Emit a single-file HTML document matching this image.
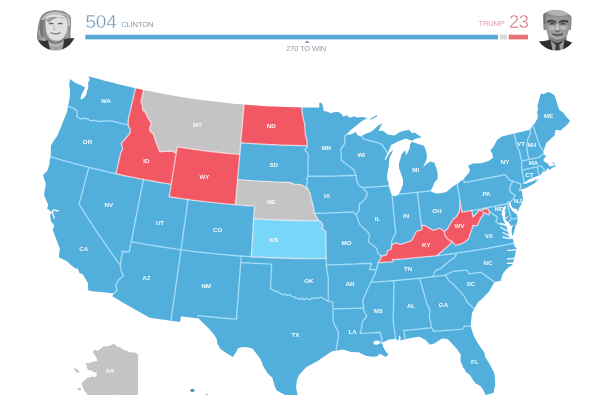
<!DOCTYPE html>
<html><head><meta charset="utf-8">
<style>
html,body{margin:0;padding:0;background:#fff;}
body{width:600px;height:402px;overflow:hidden;position:relative;font-family:"Liberation Sans",Arial,sans-serif;}
svg{position:absolute;left:0;top:0;}
.map path{stroke:none;}
.map path.bd{fill:none;stroke:rgba(180,232,255,0.72);stroke-width:1.4;stroke-linejoin:round;stroke-linecap:round;}
.map path.bw{fill:none;stroke:rgba(255,240,245,0.6);stroke-width:1.4;stroke-linejoin:round;stroke-linecap:round;}
.map text{font-family:"Liberation Sans",Arial,sans-serif;font-weight:bold;font-size:6.2px;fill:#fff;fill-opacity:0.92;text-anchor:middle;}
.hd{position:absolute;white-space:nowrap;line-height:1;}
.num{font-size:18.6px;font-weight:normal;letter-spacing:-0.2px;-webkit-text-stroke:0.35px #fff;paint-order:normal;}
.nm{font-size:7.2px;letter-spacing:-0.15px;}
</style></head><body>
<div id="wrap" style="position:absolute;left:0;top:0;width:600px;height:402px;filter:blur(0.5px);">
<svg class="map" width="600" height="395" viewBox="0 0 600 395">
<path d="M88.5,76.3L92.8,77.5L97.0,78.6L101.3,79.8L105.5,80.9L109.8,82.0L114.1,83.1L118.3,84.2L122.6,85.2L126.9,86.2L131.2,87.2L135.5,88.2L135.5,88.2L134.1,94.4L132.6,100.7L131.2,106.9L129.7,113.2L128.3,119.5L128.1,124.9L128.1,124.9L123.7,123.9L119.2,122.9L114.8,121.8L110.3,120.7L107.4,120.9L103.6,121.2L98.9,121.5L95.1,120.4L90.1,120.8L87.6,118.7L84.2,118.3L80.7,118.9L76.7,116.4L77.3,113.3L76.7,110.5L74.8,109.1L73.2,108.2L69.7,106.8L68.0,105.8L68.0,105.8L69.2,100.5L69.8,96.8L70.0,90.3L69.2,84.2L70.2,78.9L74.7,82.6L79.4,84.6L83.4,86.4L85.3,87.6L83.2,91.6L81.0,96.1L80.5,99.2L82.3,99.1L84.7,97.2L86.6,93.8L87.2,90.1L88.2,88.4L88.2,85.2L88.1,82.6L89.8,79.8Z" fill="#52afdc"/>
<path d="M68.0,105.8L69.7,106.8L73.2,108.2L74.8,109.1L76.7,110.5L77.3,113.3L76.7,116.4L80.7,118.9L84.2,118.3L87.6,118.7L90.1,120.8L95.1,120.4L98.9,121.5L103.6,121.2L107.4,120.9L110.3,120.7L114.8,121.8L119.2,122.9L123.7,123.9L128.1,124.9L128.1,124.9L130.1,129.1L130.3,132.4L127.5,136.3L125.7,138.5L121.3,143.3L122.1,146.1L122.7,149.4L121.0,151.6L119.3,159.0L117.6,166.4L115.9,173.8L115.9,173.8L110.5,172.6L105.0,171.3L99.6,170.0L94.2,168.7L88.8,167.4L88.8,167.4L84.0,166.1L79.2,164.9L74.4,163.6L69.7,162.3L64.9,160.9L60.1,159.6L55.4,158.2L50.7,156.8L50.7,156.8L50.8,150.2L50.8,145.7L53.9,140.6L57.1,136.3L61.0,126.9L63.3,121.0L67.1,111.7Z" fill="#52afdc"/>
<path d="M50.7,156.8L55.4,158.2L60.1,159.6L64.9,160.9L69.7,162.3L74.4,163.6L79.2,164.9L84.0,166.1L88.8,167.4L88.8,167.4L87.2,173.5L85.6,179.6L84.0,185.7L82.4,191.9L80.7,198.0L79.1,204.1L83.0,210.3L86.9,216.5L90.9,222.7L94.9,228.9L99.0,235.0L103.2,241.1L107.4,247.2L111.7,253.3L116.1,259.4L120.5,265.4L120.5,265.4L120.4,267.3L121.6,272.1L123.5,275.7L119.1,279.3L115.8,285.1L116.8,290.5L113.8,293.5L113.8,293.5L107.4,292.8L101.1,292.1L94.7,291.4L88.3,290.6L88.3,290.6L87.8,286.4L88.0,283.2L84.9,277.9L82.6,274.1L79.5,273.2L78.9,271.3L77.9,268.8L75.3,268.3L71.7,265.7L67.4,261.4L64.5,260.0L58.8,257.2L59.4,252.8L59.9,249.0L58.1,243.9L55.0,235.9L52.6,229.3L54.5,226.5L53.1,224.1L50.9,220.9L50.2,216.1L51.2,212.4L49.4,209.9L47.1,208.6L48.2,205.0L44.0,195.1L45.1,188.2L45.9,183.8L44.5,180.1L43.1,175.0L47.5,170.4L49.4,164.3L49.8,159.8Z" fill="#52afdc"/>
<path d="M88.8,167.4L94.2,168.7L99.6,170.0L105.0,171.3L110.5,172.6L115.9,173.8L115.9,173.8L121.4,175.0L126.9,176.2L132.4,177.3L137.9,178.4L143.5,179.5L143.5,179.5L142.2,185.7L141.0,191.9L139.8,198.1L138.6,204.3L137.4,210.5L136.1,216.8L134.9,223.0L133.7,229.2L132.5,235.4L131.2,241.7L131.2,241.7L129.3,251.7L122.1,251.5L122.8,252.9L121.0,259.1L120.5,265.4L120.5,265.4L116.1,259.4L111.7,253.3L107.4,247.2L103.2,241.1L99.0,235.0L94.9,228.9L90.9,222.7L86.9,216.5L83.0,210.3L79.1,204.1L80.7,198.0L82.4,191.9L84.0,185.7L85.6,179.6L87.2,173.5Z" fill="#52afdc"/>
<path d="M135.5,88.2L143.6,89.9L143.6,89.9L142.3,96.1L140.9,102.3L142.7,106.2L142.5,109.4L145.4,112.5L147.5,117.2L150.0,121.3L151.6,123.3L150.0,126.8L149.7,130.6L153.2,134.0L156.1,142.5L157.7,146.2L159.9,151.9L165.0,151.3L172.8,151.3L176.2,153.4L176.2,153.4L174.9,161.1L173.7,168.8L172.4,176.5L171.2,184.3L171.2,184.3L165.6,183.4L160.1,182.5L154.5,181.5L149.0,180.5L143.5,179.5L143.5,179.5L137.9,178.4L132.4,177.3L126.9,176.2L121.4,175.0L115.9,173.8L115.9,173.8L117.6,166.4L119.3,159.0L121.0,151.6L122.7,149.4L122.1,146.1L121.3,143.3L125.7,138.5L127.5,136.3L130.3,132.4L130.1,129.1L128.1,124.9L128.1,124.9L128.3,119.5L129.7,113.2L131.2,106.9L132.6,100.7L134.1,94.4Z" fill="#f25864"/>
<path d="M143.6,89.9L147.8,90.8L151.9,91.6L156.1,92.4L160.2,93.2L164.4,94.0L168.5,94.8L172.7,95.5L176.9,96.2L181.0,96.9L185.2,97.6L189.4,98.2L193.6,98.8L197.8,99.4L202.0,100.0L206.2,100.6L210.4,101.1L214.6,101.6L218.8,102.1L223.0,102.6L227.2,103.1L231.4,103.5L235.6,103.9L239.8,104.3L244.1,104.6L244.1,104.6L243.5,110.9L243.0,117.3L242.4,123.6L241.9,129.9L241.3,136.3L240.8,142.7L240.8,142.7L239.8,154.4L239.8,154.4L235.3,154.0L230.8,153.6L226.3,153.2L221.8,152.7L217.4,152.3L212.9,151.8L208.4,151.2L204.0,150.7L199.5,150.1L195.0,149.5L190.6,148.9L186.1,148.3L181.7,147.6L177.2,146.9L176.2,153.4L176.2,153.4L172.8,151.3L165.0,151.3L159.9,151.9L157.7,146.2L156.1,142.5L153.2,134.0L149.7,130.6L150.0,126.8L151.6,123.3L150.0,121.3L147.5,117.2L145.4,112.5L142.5,109.4L142.7,106.2L140.9,102.3L142.3,96.1Z" fill="#c4c4c4"/>
<path d="M176.2,153.4L177.2,146.9L181.7,147.6L186.1,148.3L190.6,148.9L195.0,149.5L199.5,150.1L204.0,150.7L208.4,151.2L212.9,151.8L217.4,152.3L221.8,152.7L226.3,153.2L230.8,153.6L235.3,154.0L239.8,154.4L239.8,154.4L239.2,160.7L238.7,167.0L238.1,173.3L237.6,179.5L237.6,179.5L237.1,185.8L236.5,192.1L236.0,198.4L235.4,204.7L235.4,204.7L230.7,204.3L225.9,203.9L221.2,203.4L216.4,202.9L211.7,202.4L206.9,201.9L202.2,201.4L197.5,200.8L192.7,200.2L188.0,199.5L188.0,199.5L183.3,198.9L178.6,198.2L173.9,197.5L169.1,196.8L170.2,190.5L171.2,184.3L171.2,184.3L172.4,176.5L173.7,168.8L174.9,161.1Z" fill="#f25864"/>
<path d="M143.5,179.5L149.0,180.5L154.5,181.5L160.1,182.5L165.6,183.4L171.2,184.3L171.2,184.3L170.2,190.5L169.1,196.8L173.9,197.5L178.6,198.2L183.3,198.9L188.0,199.5L188.0,199.5L187.1,205.8L186.3,212.1L185.4,218.4L184.5,224.6L183.6,230.9L182.7,237.2L181.9,243.5L181.0,249.7L181.0,249.7L176.0,249.1L171.0,248.3L166.0,247.6L161.0,246.8L156.0,246.0L151.1,245.2L146.1,244.4L141.1,243.5L136.2,242.6L131.2,241.7L131.2,241.7L132.5,235.4L133.7,229.2L134.9,223.0L136.1,216.8L137.4,210.5L138.6,204.3L139.8,198.1L141.0,191.9L142.2,185.7Z" fill="#52afdc"/>
<path d="M131.2,241.7L136.2,242.6L141.1,243.5L146.1,244.4L151.1,245.2L156.0,246.0L161.0,246.8L166.0,247.6L171.0,248.3L176.0,249.1L181.0,249.7L181.0,249.7L180.1,256.2L179.2,262.7L178.2,269.2L177.3,275.6L176.4,282.1L175.5,288.5L174.6,295.0L173.7,301.5L172.8,307.9L171.9,314.3L171.0,320.8L171.0,320.8L165.6,320.0L160.2,319.3L154.7,318.4L149.3,317.6L144.0,314.6L138.6,311.6L133.3,308.6L128.0,305.5L122.7,302.4L117.5,299.3L112.3,296.2L113.8,293.5L113.8,293.5L116.8,290.5L115.8,285.1L119.1,279.3L123.5,275.7L121.6,272.1L120.4,267.3L120.5,265.4L120.5,265.4L121.0,259.1L122.8,252.9L122.1,251.5L129.3,251.7Z" fill="#52afdc"/>
<path d="M188.0,199.5L192.7,200.2L197.5,200.8L202.2,201.4L206.9,201.9L211.7,202.4L216.4,202.9L221.2,203.4L225.9,203.9L230.7,204.3L235.4,204.7L235.4,204.7L240.2,205.1L244.9,205.5L249.7,205.8L254.5,206.1L254.1,212.4L253.6,218.8L253.6,218.8L253.2,225.1L252.9,231.4L252.5,237.7L252.1,244.1L251.7,250.4L251.3,256.7L251.3,256.7L246.3,256.4L241.2,256.0L241.2,256.0L236.2,255.7L231.2,255.3L226.1,254.8L221.1,254.4L216.1,253.9L211.0,253.4L206.0,252.8L201.0,252.3L196.0,251.7L191.0,251.1L186.0,250.4L181.0,249.7L181.0,249.7L181.9,243.5L182.7,237.2L183.6,230.9L184.5,224.6L185.4,218.4L186.3,212.1L187.1,205.8Z" fill="#52afdc"/>
<path d="M181.0,249.7L186.0,250.4L191.0,251.1L196.0,251.7L201.0,252.3L206.0,252.8L211.0,253.4L216.1,253.9L221.1,254.4L226.1,254.8L231.2,255.3L236.2,255.7L241.2,256.0L241.2,256.0L240.8,262.4L240.8,262.4L240.3,268.7L239.8,275.0L239.3,281.3L238.8,287.6L238.4,293.9L237.9,300.2L237.4,306.5L236.9,312.8L236.5,319.1L231.0,318.7L225.5,318.3L220.0,317.8L214.5,317.3L209.1,316.8L203.6,316.2L198.1,315.6L198.1,315.6L198.8,318.5L192.8,317.8L186.8,317.1L180.9,316.4L180.1,322.0L171.0,320.8L171.0,320.8L171.9,314.3L172.8,307.9L173.7,301.5L174.6,295.0L175.5,288.5L176.4,282.1L177.3,275.6L178.2,269.2L179.2,262.7L180.1,256.2Z" fill="#52afdc"/>
<path d="M244.1,104.6L248.5,105.0L252.9,105.3L257.3,105.6L261.8,105.9L266.2,106.2L270.7,106.4L275.1,106.6L279.5,106.8L284.0,107.0L288.4,107.1L292.8,107.2L297.3,107.3L301.7,107.4L301.7,107.4L302.3,113.6L304.8,124.9L305.2,133.6L306.9,140.5L307.2,145.6L307.2,145.6L302.4,145.6L297.7,145.5L292.9,145.4L288.2,145.3L283.4,145.2L278.7,145.0L273.9,144.8L269.2,144.6L264.5,144.3L259.7,144.0L255.0,143.7L250.2,143.4L245.5,143.1L240.8,142.7L240.8,142.7L241.3,136.3L241.9,129.9L242.4,123.6L243.0,117.3L243.5,110.9Z" fill="#f25864"/>
<path d="M240.8,142.7L245.5,143.1L250.2,143.4L255.0,143.7L259.7,144.0L264.5,144.3L269.2,144.6L273.9,144.8L278.7,145.0L283.4,145.2L288.2,145.3L292.9,145.4L297.7,145.5L302.4,145.6L307.2,145.6L307.2,145.6L307.1,147.1L304.7,149.9L308.1,153.7L308.1,161.2L308.0,168.8L308.0,176.3L308.0,176.3L306.6,178.8L307.5,182.6L306.3,186.4L307.9,189.1L307.9,189.1L305.2,187.0L302.8,185.5L299.1,184.4L295.0,184.4L291.3,183.0L289.0,182.3L284.3,182.2L279.6,182.1L274.9,181.9L270.3,181.7L265.6,181.4L260.9,181.2L256.3,180.9L251.6,180.6L246.9,180.3L242.3,179.9L237.6,179.5L237.6,179.5L238.1,173.3L238.7,167.0L239.2,160.7L239.8,154.4L239.8,154.4Z" fill="#52afdc"/>
<path d="M237.6,179.5L242.3,179.9L246.9,180.3L251.6,180.6L256.3,180.9L260.9,181.2L265.6,181.4L270.3,181.7L274.9,181.9L279.6,182.1L284.3,182.2L289.0,182.3L291.3,183.0L295.0,184.4L299.1,184.4L302.8,185.5L305.2,187.0L307.9,189.1L307.9,189.1L310.3,194.0L311.2,199.1L312.8,204.1L313.6,207.9L314.4,213.3L314.4,213.3L318.8,220.6L318.8,220.6L313.8,220.6L308.8,220.6L303.8,220.6L298.8,220.5L293.7,220.4L288.7,220.3L283.7,220.2L278.7,220.0L273.7,219.8L268.7,219.6L263.7,219.3L258.6,219.1L253.6,218.8L253.6,218.8L254.1,212.4L254.5,206.1L249.7,205.8L244.9,205.5L240.2,205.1L235.4,204.7L235.4,204.7L236.0,198.4L236.5,192.1L237.1,185.8Z" fill="#c4c4c4"/>
<path d="M253.6,218.8L258.6,219.1L263.7,219.3L268.7,219.6L273.7,219.8L278.7,220.0L283.7,220.2L288.7,220.3L293.7,220.4L298.8,220.5L303.8,220.6L308.8,220.6L313.8,220.6L318.8,220.6L318.8,220.6L321.4,222.2L323.0,225.6L321.9,228.2L325.9,231.3L325.9,238.1L326.0,244.9L326.1,251.7L326.2,258.5L326.2,258.5L320.8,258.6L315.5,258.6L310.1,258.6L304.8,258.6L299.4,258.5L294.1,258.5L288.7,258.3L283.4,258.2L278.0,258.0L272.7,257.8L267.3,257.6L262.0,257.3L256.6,257.0L251.3,256.7L251.3,256.7L251.7,250.4L252.1,244.1L252.5,237.7L252.9,231.4L253.2,225.1Z" fill="#78d6f8"/>
<path d="M241.2,256.0L246.3,256.4L251.3,256.7L251.3,256.7L256.6,257.0L262.0,257.3L267.3,257.6L272.7,257.8L278.0,258.0L283.4,258.2L288.7,258.3L294.1,258.5L299.4,258.5L304.8,258.6L310.1,258.6L315.5,258.6L320.8,258.6L326.2,258.5L326.2,258.5L326.2,264.9L326.2,264.9L327.2,271.8L328.3,278.8L328.3,286.2L328.2,293.6L328.2,301.1L328.2,301.1L325.3,299.7L323.2,298.3L320.5,297.2L317.9,298.4L316.4,297.6L314.3,298.4L312.1,297.9L310.0,299.7L307.9,299.1L305.8,298.6L303.7,300.1L302.2,297.8L300.0,299.8L298.5,298.4L296.4,298.4L294.3,296.7L291.7,296.4L290.2,294.7L287.0,295.0L284.9,294.2L282.8,294.7L280.8,293.6L278.7,292.5L276.7,291.2L274.6,291.1L272.5,289.9L270.5,288.7L270.9,280.5L271.2,272.3L271.6,264.1L266.4,263.9L261.3,263.6L256.1,263.4L251.0,263.1L245.9,262.7L240.8,262.4L240.8,262.4Z" fill="#52afdc"/>
<path d="M198.1,315.6L203.6,316.2L209.1,316.8L214.5,317.3L220.0,317.8L225.5,318.3L231.0,318.7L236.5,319.1L236.9,312.8L237.4,306.5L237.9,300.2L238.4,293.9L238.8,287.6L239.3,281.3L239.8,275.0L240.3,268.7L240.8,262.4L240.8,262.4L245.9,262.7L251.0,263.1L256.1,263.4L261.3,263.6L266.4,263.9L271.6,264.1L271.2,272.3L270.9,280.5L270.5,288.7L272.5,289.9L274.6,291.1L276.7,291.2L278.7,292.5L280.8,293.6L282.8,294.7L284.9,294.2L287.0,295.0L290.2,294.7L291.7,296.4L294.3,296.7L296.4,298.4L298.5,298.4L300.0,299.8L302.2,297.8L303.7,300.1L305.8,298.6L307.9,299.1L310.0,299.7L312.1,297.9L314.3,298.4L316.4,297.6L317.9,298.4L320.5,297.2L323.2,298.3L325.3,299.7L328.2,301.1L328.2,301.1L332.8,302.1L333.0,308.8L333.0,308.8L333.1,315.2L333.2,321.7L334.8,325.4L338.2,331.7L338.4,336.7L337.4,341.8L336.1,350.7L336.1,350.7L332.1,351.3L326.0,355.2L323.3,357.1L317.7,360.9L312.1,364.0L306.5,367.1L302.6,370.9L298.5,375.8L296.8,380.8L296.1,387.0L297.2,393.3L298.8,397.7L298.8,397.7L293.6,397.0L286.7,395.6L282.2,393.6L276.5,390.3L274.4,385.3L272.4,377.7L268.0,373.8L263.8,367.3L260.8,359.7L256.6,353.8L252.4,348.6L245.9,346.9L241.4,347.2L238.1,348.3L235.5,353.1L232.9,357.0L228.7,354.5L225.5,352.4L220.2,348.8L217.4,343.5L216.7,339.0L213.8,334.3L208.9,328.8L203.9,323.8L201.0,321.0L198.8,318.5Z" fill="#52afdc"/>
<path d="M301.7,107.4L306.1,107.5L310.5,107.5L314.9,107.5L319.3,107.4L319.3,102.7L321.0,102.8L322.1,103.7L323.7,109.4L323.4,110.9L327.0,111.6L330.9,113.2L333.8,112.3L338.1,111.8L341.2,113.8L343.4,116.4L346.4,115.2L349.9,117.8L354.6,116.3L356.8,117.5L362.8,117.1L367.2,118.1L367.2,118.1L361.3,121.6L355.5,126.3L350.5,130.3L346.3,134.8L346.3,134.8L344.7,136.0L345.0,143.0L342.0,147.5L340.7,150.1L341.4,155.7L341.1,160.1L345.7,163.7L349.9,166.7L353.7,169.7L356.1,175.3L356.1,175.3L351.3,175.5L346.5,175.7L341.7,175.8L336.9,176.0L332.1,176.1L327.3,176.2L322.4,176.3L317.6,176.3L312.8,176.3L308.0,176.3L308.0,176.3L308.0,168.8L308.1,161.2L308.1,153.7L304.7,149.9L307.1,147.1L307.2,145.6L307.2,145.6L306.9,140.5L305.2,133.6L304.8,124.9L302.3,113.6Z" fill="#52afdc"/>
<path d="M308.0,176.3L312.8,176.3L317.6,176.3L322.4,176.3L327.3,176.2L332.1,176.1L336.9,176.0L341.7,175.8L346.5,175.7L351.3,175.5L356.1,175.3L356.1,175.3L356.6,180.3L358.2,184.6L362.2,187.6L362.2,187.6L367.1,192.4L366.8,196.2L364.2,200.1L359.2,204.2L359.1,210.5L356.2,214.7L356.2,214.7L353.1,212.0L348.3,212.2L343.4,212.4L338.6,212.6L333.7,212.8L328.9,213.0L324.1,213.1L319.2,213.2L314.4,213.3L314.4,213.3L313.6,207.9L312.8,204.1L311.2,199.1L310.3,194.0L307.9,189.1L307.9,189.1L306.3,186.4L307.5,182.6L306.6,178.8Z" fill="#52afdc"/>
<path d="M314.4,213.3L319.2,213.2L324.1,213.1L328.9,213.0L333.7,212.8L338.6,212.6L343.4,212.4L348.3,212.2L353.1,212.0L356.2,214.7L356.2,214.7L359.8,224.5L365.0,229.3L369.4,234.1L369.3,236.6L368.2,241.8L372.3,244.7L377.1,248.8L377.4,252.6L381.2,256.2L381.2,256.2L380.8,258.7L378.1,262.7L378.1,262.7L377.3,266.6L376.5,269.2L376.5,269.2L369.6,269.6L371.5,263.2L365.8,263.5L360.2,263.8L354.5,264.1L348.8,264.3L343.2,264.5L337.5,264.6L331.8,264.8L326.2,264.9L326.2,264.9L326.2,258.5L326.2,258.5L326.1,251.7L326.0,244.9L325.9,238.1L325.9,231.3L321.9,228.2L323.0,225.6L321.4,222.2L318.8,220.6L318.8,220.6Z" fill="#52afdc"/>
<path d="M326.2,264.9L331.8,264.8L337.5,264.6L343.2,264.5L348.8,264.3L354.5,264.1L360.2,263.8L365.8,263.5L371.5,263.2L369.6,269.6L376.5,269.2L376.5,269.2L374.8,274.4L373.0,278.3L371.0,282.2L371.0,282.2L368.3,287.5L365.6,294.0L362.7,300.4L363.6,308.0L363.6,308.0L357.4,308.2L351.3,308.4L345.2,308.6L339.1,308.7L333.0,308.8L333.0,308.8L332.8,302.1L328.2,301.1L328.2,301.1L328.2,293.6L328.3,286.2L328.3,278.8L327.2,271.8Z" fill="#52afdc"/>
<path d="M333.0,308.8L339.1,308.7L345.2,308.6L351.3,308.4L357.4,308.2L363.6,308.0L363.6,308.0L363.8,310.5L365.0,313.0L366.8,316.0L362.2,321.9L361.9,326.4L360.1,333.4L366.8,333.1L373.6,332.7L380.4,332.3L382.5,342.5L382.5,342.5L382.8,346.0L385.3,350.9L388.4,354.4L385.8,357.1L380.0,353.7L376.8,356.4L372.3,356.7L365.6,355.8L358.7,352.3L351.0,352.0L343.1,349.5L336.1,350.7L336.1,350.7L337.4,341.8L338.4,336.7L338.2,331.7L334.8,325.4L333.2,321.7L333.1,315.2Z" fill="#52afdc"/>
<path d="M346.3,134.8L350.7,134.6L355.9,132.1L357.8,135.5L361.2,136.3L361.2,136.3L364.0,139.1L368.6,140.3L373.2,141.5L377.0,142.4L382.4,144.8L383.4,147.0L385.5,149.9L387.6,152.9L387.6,152.9L386.4,155.5L384.6,160.1L385.9,159.4L387.8,156.0L389.8,152.7L393.1,149.9L391.7,153.8L389.8,157.1L389.2,160.8L388.9,164.8L388.1,169.9L387.2,174.4L387.1,179.0L388.6,182.8L388.6,185.8L388.6,185.8L383.4,186.2L378.1,186.6L372.8,187.0L367.5,187.3L362.2,187.6L362.2,187.6L358.2,184.6L356.6,180.3L356.1,175.3L356.1,175.3L353.7,169.7L349.9,166.7L345.7,163.7L341.1,160.1L341.4,155.7L340.7,150.1L342.0,147.5L345.0,143.0L344.7,136.0Z" fill="#52afdc"/>
<path d="M362.2,187.6L367.5,187.3L372.8,187.0L378.1,186.6L383.4,186.2L388.6,185.8L388.6,185.8L391.2,193.7L392.1,195.4L392.1,195.4L392.8,202.9L393.4,210.3L394.1,217.8L394.8,225.2L395.4,229.6L395.5,233.7L391.9,240.1L391.6,245.2L391.6,245.2L391.2,249.1L387.8,250.6L386.6,254.8L381.2,256.2L381.2,256.2L377.4,252.6L377.1,248.8L372.3,244.7L368.2,241.8L369.3,236.6L369.4,234.1L365.0,229.3L359.8,224.5L356.2,214.7L356.2,214.7L359.1,210.5L359.2,204.2L364.2,200.1L366.8,196.2L367.1,192.4Z" fill="#52afdc"/>
<path d="M392.1,195.4L395.3,196.2L398.7,194.2L398.7,194.2L403.4,193.7L408.1,193.3L412.7,192.7L417.4,192.2L417.4,192.2L418.2,198.9L419.0,205.6L419.8,212.3L420.6,219.0L421.5,225.7L421.5,225.7L422.1,229.7L416.4,231.3L413.5,237.1L411.4,240.8L405.6,242.7L400.8,244.4L395.7,242.9L391.6,245.2L391.6,245.2L391.9,240.1L395.5,233.7L395.4,229.6L394.8,225.2L394.1,217.8L393.4,210.3L392.8,202.9Z" fill="#52afdc"/>
<path d="M417.4,192.2L423.9,191.6L430.3,191.0L430.3,191.0L434.9,193.3L437.8,193.6L444.4,192.4L447.1,191.6L453.0,186.2L457.2,183.9L457.2,183.9L458.6,192.2L460.0,200.6L460.0,200.6L459.7,203.7L459.6,208.9L458.8,212.9L456.0,217.2L452.9,219.3L451.0,223.0L449.3,225.2L447.8,228.6L444.4,231.4L444.4,231.4L439.8,228.2L433.6,230.3L429.9,228.5L424.6,225.3L421.5,225.7L421.5,225.7L420.6,219.0L419.8,212.3L419.0,205.6L418.2,198.9Z" fill="#52afdc"/>
<path d="M398.7,194.2L401.2,189.6L403.0,184.4L403.0,179.3L400.9,173.2L399.1,168.3L399.0,163.2L400.4,158.7L401.7,154.1L405.3,149.9L405.9,155.5L407.8,152.2L409.6,148.2L410.1,144.3L412.2,141.8L412.2,141.8L415.3,143.1L423.8,145.8L425.6,149.4L426.7,153.7L426.9,158.7L425.1,162.8L423.0,167.5L426.7,163.8L430.5,161.4L434.4,162.8L436.6,168.8L437.6,173.8L437.6,178.9L434.4,182.6L433.0,186.6L430.3,191.0L430.3,191.0L423.9,191.6L417.4,192.2L417.4,192.2L412.7,192.7L408.1,193.3L403.4,193.7ZM361.2,136.3L365.6,133.8L370.7,132.0L374.1,129.5L378.1,125.4L382.3,123.6L380.0,127.8L378.6,131.0L382.9,130.7L387.7,134.6L394.4,135.6L400.0,131.9L404.4,130.8L408.8,129.7L412.3,133.3L414.4,132.5L421.7,137.2L415.2,138.8L412.1,140.7L405.8,138.5L398.5,141.2L395.6,142.7L392.6,144.3L391.7,144.3L387.6,152.9L387.6,152.9L385.5,149.9L383.4,147.0L382.4,144.8L377.0,142.4L373.2,141.5L368.6,140.3L364.0,139.1ZM370.3,119.1L373.1,117.0L376.8,115.1L377.4,116.1L373.2,118.5L370.8,120.1Z" fill="#52afdc"/>
<path d="M378.1,262.7L380.8,258.7L381.2,256.2L381.2,256.2L386.6,254.8L387.8,250.6L391.2,249.1L391.6,245.2L391.6,245.2L395.7,242.9L400.8,244.4L405.6,242.7L411.4,240.8L413.5,237.1L416.4,231.3L422.1,229.7L421.5,225.7L421.5,225.7L424.6,225.3L429.9,228.5L433.6,230.3L439.8,228.2L444.4,231.4L444.4,231.4L444.7,234.6L447.4,238.9L452.1,241.6L452.1,241.6L448.8,245.5L443.8,249.7L436.7,255.7L436.7,255.7L430.0,256.4L423.4,257.0L418.3,257.5L413.3,257.9L408.2,258.5L403.2,258.9L394.6,259.8L392.4,259.4L392.6,261.7L385.3,262.2Z" fill="#f25864"/>
<path d="M378.1,262.7L385.3,262.2L392.6,261.7L392.4,259.4L394.6,259.8L403.2,258.9L408.2,258.5L413.3,257.9L418.3,257.5L423.4,257.0L430.0,256.4L436.7,255.7L436.7,255.7L441.7,255.1L446.8,254.5L451.8,253.8L456.8,253.1L456.8,253.1L454.2,257.8L448.6,261.8L444.0,265.6L440.3,268.7L435.3,270.6L432.8,276.8L432.8,276.8L426.2,277.5L419.6,278.2L419.6,278.2L414.3,278.7L408.9,279.3L403.6,279.8L398.2,280.3L392.8,280.7L392.8,280.7L387.4,281.1L381.9,281.5L376.5,281.9L371.0,282.2L371.0,282.2L373.0,278.3L374.8,274.4L376.5,269.2L376.5,269.2L377.3,266.6Z" fill="#52afdc"/>
<path d="M371.0,282.2L376.5,281.9L381.9,281.5L387.4,281.1L392.8,280.7L392.8,280.7L394.0,281.9L393.9,288.2L393.7,294.6L393.6,301.0L393.5,307.3L393.3,313.7L393.2,320.0L393.9,326.3L394.7,332.6L395.5,338.9L395.5,338.9L388.9,339.5L382.5,342.5L382.5,342.5L380.4,332.3L373.6,332.7L366.8,333.1L360.1,333.4L361.9,326.4L362.2,321.9L366.8,316.0L365.0,313.0L363.8,310.5L363.6,308.0L363.6,308.0L362.7,300.4L365.6,294.0L368.3,287.5Z" fill="#52afdc"/>
<path d="M392.8,280.7L398.2,280.3L403.6,279.8L408.9,279.3L414.3,278.7L419.6,278.2L419.6,278.2L421.5,284.8L423.3,291.3L425.2,297.9L427.0,304.5L429.7,309.4L429.8,311.4L429.4,317.2L430.4,321.5L431.7,327.7L431.7,327.7L426.1,328.3L420.5,328.9L414.8,329.5L409.2,330.0L403.5,330.5L405.4,339.2L403.5,330.5L405.4,339.2L402.7,339.8L399.8,340.6L400.9,337.7L399.0,334.9L398.8,338.5L398.9,340.4L395.5,338.9L395.5,338.9L394.7,332.6L393.9,326.3L393.2,320.0L393.3,313.7L393.5,307.3L393.6,301.0L393.7,294.6L393.9,288.2L394.0,281.9Z" fill="#52afdc"/>
<path d="M419.6,278.2L426.2,277.5L432.8,276.8L432.8,276.8L439.1,275.9L445.3,275.1L445.3,275.1L449.5,281.3L455.4,286.4L459.1,290.4L464.4,296.6L467.4,302.6L474.1,308.8L474.1,308.8L471.9,313.4L471.3,319.8L470.6,326.2L470.6,326.2L467.3,326.2L464.5,325.9L462.8,329.1L456.9,329.6L451.1,330.1L445.3,330.5L439.5,330.9L433.7,331.3L431.7,327.7L431.7,327.7L430.4,321.5L429.4,317.2L429.8,311.4L429.7,309.4L427.0,304.5L425.2,297.9L423.3,291.3L421.5,284.8Z" fill="#52afdc"/>
<path d="M403.5,330.5L409.2,330.0L414.8,329.5L420.5,328.9L426.1,328.3L431.7,327.7L431.7,327.7L433.7,331.3L439.5,330.9L445.3,330.5L451.1,330.1L456.9,329.6L462.8,329.1L464.5,325.9L467.3,326.2L470.6,326.2L470.6,326.2L473.8,336.0L478.5,344.2L480.0,346.5L484.4,352.8L485.2,357.1L488.8,362.8L491.5,367.4L494.2,373.3L494.8,377.7L495.3,384.9L494.1,389.7L493.5,393.0L485.5,394.9L483.7,390.8L480.6,386.2L475.5,383.3L472.5,379.2L469.5,374.6L466.3,372.6L464.7,369.6L462.6,366.8L462.3,364.7L460.9,362.6L460.5,360.1L460.8,354.4L456.3,348.3L451.4,343.0L447.5,339.1L441.9,338.5L439.8,340.0L434.7,343.2L429.8,344.7L425.4,339.8L419.5,336.8L416.2,337.0L408.7,338.5L405.4,339.2L405.4,339.2Z" fill="#52afdc"/>
<path d="M445.3,275.1L453.1,271.4L459.6,270.8L466.0,270.1L467.3,270.6L469.2,273.9L475.0,273.0L480.8,272.2L487.6,277.1L494.5,282.0L494.5,282.0L489.3,291.3L482.9,298.1L478.2,302.1L474.1,308.8L474.1,308.8L467.4,302.6L464.4,296.6L459.1,290.4L455.4,286.4L449.5,281.3Z" fill="#52afdc"/>
<path d="M456.8,253.1L462.0,252.3L467.2,251.6L472.4,250.8L477.6,249.9L482.8,249.1L488.0,248.2L493.2,247.3L498.3,246.3L503.5,245.3L508.7,244.4L513.8,243.3L513.8,243.3L514.7,246.4L516.6,248.6L516.2,250.6L515.2,253.4L515.0,256.0L513.9,259.5L512.9,262.3L512.4,264.9L508.7,267.3L505.5,270.2L502.6,274.0L500.7,280.8L494.5,282.0L494.5,282.0L487.6,277.1L480.8,272.2L475.0,273.0L469.2,273.9L467.3,270.6L466.0,270.1L459.6,270.8L453.1,271.4L445.3,275.1L445.3,275.1L439.1,275.9L432.8,276.8L432.8,276.8L435.3,270.6L440.3,268.7L444.0,265.6L448.6,261.8L454.2,257.8Z" fill="#52afdc"/>
<path d="M489.6,212.4L491.5,212.6L493.9,215.0L496.4,216.1L497.3,216.9L497.3,218.7L496.4,220.3L495.7,221.8L499.7,224.2L503.4,224.8L506.1,225.5L506.1,225.5L507.8,231.0L508.8,235.9L509.4,238.4L512.9,239.0L513.8,243.3L513.8,243.3L508.7,244.4L503.5,245.3L498.3,246.3L493.2,247.3L488.0,248.2L482.8,249.1L477.6,249.9L472.4,250.8L467.2,251.6L462.0,252.3L456.8,253.1L456.8,253.1L451.8,253.8L446.8,254.5L441.7,255.1L436.7,255.7L436.7,255.7L443.8,249.7L448.8,245.5L452.1,241.6L452.1,241.6L455.6,245.4L460.0,244.3L463.6,242.7L468.6,238.9L470.2,233.5L472.0,229.3L472.8,225.3L474.4,225.7L477.3,225.5L479.5,220.9L480.5,218.2L483.2,215.1L483.4,212.3L489.0,214.9ZM517.0,223.5L515.4,226.1L514.6,229.5L513.8,233.0L512.3,236.3L511.5,231.5L512.1,227.5L513.2,225.3Z" fill="#52afdc"/>
<path d="M460.0,200.6L461.9,212.1L466.9,211.3L471.8,210.4L471.8,210.4L473.0,216.9L477.0,213.0L478.9,210.1L482.1,210.8L484.3,208.5L488.0,209.1L489.6,212.4L489.6,212.4L489.0,214.9L483.4,212.3L483.2,215.1L480.5,218.2L479.5,220.9L477.3,225.5L474.4,225.7L472.8,225.3L472.0,229.3L470.2,233.5L468.6,238.9L463.6,242.7L460.0,244.3L455.6,245.4L452.1,241.6L452.1,241.6L447.4,238.9L444.7,234.6L444.4,231.4L444.4,231.4L447.8,228.6L449.3,225.2L451.0,223.0L452.9,219.3L456.0,217.2L458.8,212.9L459.6,208.9L459.7,203.7Z" fill="#f25864"/>
<path d="M471.8,210.4L476.9,209.6L481.9,208.6L486.9,207.7L492.0,206.7L497.0,205.7L502.0,204.7L507.0,203.7L507.0,203.7L509.2,211.4L511.3,219.2L517.6,217.9L517.6,217.9L517.0,223.5L513.2,225.3L510.8,225.8L509.1,222.9L505.4,219.8L504.8,214.8L505.7,212.0L504.0,211.0L505.9,208.1L504.5,206.4L503.0,208.7L502.1,211.4L502.4,215.3L503.5,220.2L506.1,225.5L506.1,225.5L503.4,224.8L499.7,224.2L495.7,221.8L496.4,220.3L497.3,218.7L497.3,216.9L496.4,216.1L493.9,215.0L491.5,212.6L489.6,212.4L489.6,212.4L488.0,209.1L484.3,208.5L482.1,210.8L478.9,210.1L477.0,213.0L473.0,216.9Z" fill="#52afdc"/>
<path d="M507.0,203.7L508.5,201.8L510.3,201.9L510.3,201.9L509.4,203.9L509.3,205.0L510.0,206.5L512.5,211.0L513.8,212.2L515.8,214.1L516.3,213.6L516.7,214.6L517.6,217.9L517.6,217.9L511.3,219.2L509.2,211.4Z" fill="#52afdc"/>
<path d="M457.2,183.9L460.9,181.1L463.6,179.1L463.6,179.1L464.2,182.5L469.3,181.6L474.4,180.7L479.4,179.7L484.5,178.8L489.6,177.8L494.7,176.7L499.7,175.7L504.8,174.6L505.5,175.1L508.8,178.9L509.7,180.3L512.8,181.1L512.8,181.1L511.7,183.4L509.8,186.9L510.2,191.6L512.6,193.6L515.5,195.6L513.9,197.2L512.9,199.4L510.3,201.9L510.3,201.9L508.5,201.8L507.0,203.7L507.0,203.7L502.0,204.7L497.0,205.7L492.0,206.7L486.9,207.7L481.9,208.6L476.9,209.6L471.8,210.4L471.8,210.4L466.9,211.3L461.9,212.1L460.0,200.6L460.0,200.6L458.6,192.2Z" fill="#52afdc"/>
<path d="M512.8,181.1L520.9,183.9L520.7,188.2L519.5,189.2L519.3,190.8L519.3,190.8L521.8,190.9L522.5,195.9L522.9,199.7L521.5,204.0L519.7,207.0L518.0,210.9L517.2,211.7L517.1,208.9L514.5,208.8L511.7,207.5L510.2,205.2L510.2,203.0L510.3,201.9L510.3,201.9L512.9,199.4L513.9,197.2L515.5,195.6L512.6,193.6L510.2,191.6L509.8,186.9L511.7,183.4Z" fill="#52afdc"/>
<path d="M463.6,179.1L469.2,172.6L470.1,170.1L467.9,165.8L467.9,165.8L472.6,163.4L481.1,163.3L489.0,160.7L493.1,157.7L492.0,152.8L490.2,150.6L493.5,146.7L497.4,139.4L501.9,136.5L501.9,136.5L508.0,135.0L514.2,133.5L514.2,133.5L515.6,139.7L516.7,146.0L519.3,150.9L521.7,161.1L521.7,161.1L521.7,170.1L521.7,170.1L524.4,181.8L523.4,183.5L523.4,183.5L525.1,184.0L529.6,182.3L534.1,180.8L536.4,178.1L535.1,180.9L539.8,178.4L534.7,183.2L530.4,185.6L526.1,188.0L521.5,189.4L520.6,189.9L519.3,190.8L519.3,190.8L519.5,189.2L520.7,188.2L520.9,183.9L512.8,181.1L512.8,181.1L509.7,180.3L508.8,178.9L505.5,175.1L504.8,174.6L499.7,175.7L494.7,176.7L489.6,177.8L484.5,178.8L479.4,179.7L474.4,180.7L469.3,181.6L464.2,182.5Z" fill="#52afdc"/>
<path d="M514.2,133.5L519.6,132.2L524.9,130.9L530.2,129.5L530.2,129.5L530.4,133.5L528.0,138.6L526.8,144.8L527.0,149.3L527.8,154.3L529.0,159.5L529.0,159.5L521.7,161.1L521.7,161.1L519.3,150.9L516.7,146.0L515.6,139.7Z" fill="#52afdc"/>
<path d="M530.2,129.5L532.9,125.0L532.9,125.0L535.4,132.8L538.0,140.6L540.1,146.6L543.6,150.9L543.6,150.9L543.3,154.0L543.3,154.0L541.1,155.5L539.6,157.2L534.3,158.3L529.0,159.5L529.0,159.5L527.8,154.3L527.0,149.3L526.8,144.8L528.0,138.6L530.4,133.5Z" fill="#52afdc"/>
<path d="M532.9,125.0L534.8,123.2L537.4,118.4L537.9,115.1L537.0,113.8L538.0,109.1L537.5,105.6L540.9,93.2L543.2,94.2L546.4,92.7L548.9,91.9L552.7,94.0L554.7,95.8L556.9,102.6L559.0,109.4L563.3,112.7L566.3,116.8L570.1,120.9L570.1,120.9L566.6,125.3L560.6,130.4L555.7,129.8L554.5,135.4L549.2,140.2L546.2,143.0L543.6,150.9L543.6,150.9L540.1,146.6L538.0,140.6L535.4,132.8Z" fill="#52afdc"/>
<path d="M521.7,161.1L529.0,159.5L529.0,159.5L534.3,158.3L539.6,157.2L541.1,155.5L543.3,154.0L543.3,154.0L546.0,156.1L543.6,159.4L543.6,161.3L547.0,163.1L548.4,164.6L549.8,166.6L553.0,166.0L554.7,164.9L553.7,163.5L551.9,162.3L552.8,162.0L554.4,163.3L555.0,164.8L555.3,166.4L552.4,167.8L549.4,169.9L547.8,167.8L546.9,169.6L545.2,171.4L545.2,171.4L543.8,169.1L541.1,165.7L537.3,166.8L537.3,166.8L532.1,167.9L526.9,169.0L521.7,170.1L521.7,170.1Z" fill="#52afdc"/>
<path d="M537.3,166.8L541.1,165.7L543.8,169.1L545.2,171.4L545.2,171.4L543.6,172.1L542.3,170.8L542.4,173.2L539.0,175.4L539.0,175.4Z" fill="#52afdc"/>
<path d="M521.7,170.1L526.9,169.0L532.1,167.9L537.3,166.8L537.3,166.8L539.0,175.4L539.0,175.4L533.3,177.5L528.9,179.5L524.7,182.4L523.4,183.5L523.4,183.5L524.4,181.8Z" fill="#52afdc"/>
<path class="bd" d="M403.5,330.5L409.2,330.0L414.8,329.5L420.5,328.9L426.1,328.3L431.7,327.7M405.4,339.2L403.5,330.5M395.5,338.9L394.7,332.6L393.9,326.3L393.2,320.0L393.3,313.7L393.5,307.3L393.6,301.0L393.7,294.6L393.9,288.2L394.0,281.9L392.8,280.7M371.0,282.2L368.3,287.5L365.6,294.0L362.7,300.4L363.6,308.0M376.5,269.2L374.8,274.4L373.0,278.3L371.0,282.2M113.8,293.5L116.8,290.5L115.8,285.1L119.1,279.3L123.5,275.7L121.6,272.1L120.4,267.3L120.5,265.4M120.5,265.4L121.0,259.1L122.8,252.9L122.1,251.5L129.3,251.7L131.2,241.7M131.2,241.7L136.2,242.6L141.1,243.5L146.1,244.4L151.1,245.2L156.0,246.0L161.0,246.8L166.0,247.6L171.0,248.3L176.0,249.1L181.0,249.7M88.8,167.4L87.2,173.5L85.6,179.6L84.0,185.7L82.4,191.9L80.7,198.0L79.1,204.1L83.0,210.3L86.9,216.5L90.9,222.7L94.9,228.9L99.0,235.0L103.2,241.1L107.4,247.2L111.7,253.3L116.1,259.4L120.5,265.4M517.6,217.9L511.3,219.2L509.2,211.4L507.0,203.7M431.7,327.7L430.4,321.5L429.4,317.2L429.8,311.4L429.7,309.4L427.0,304.5L425.2,297.9L423.3,291.3L421.5,284.8L419.6,278.2M470.6,326.2L467.3,326.2L464.5,325.9L462.8,329.1L456.9,329.6L451.1,330.1L445.3,330.5L439.5,330.9L433.7,331.3L431.7,327.7M362.2,187.6L367.1,192.4L366.8,196.2L364.2,200.1L359.2,204.2L359.1,210.5L356.2,214.7M356.2,214.7L353.1,212.0L348.3,212.2L343.4,212.4L338.6,212.6L333.7,212.8L328.9,213.0L324.1,213.1L319.2,213.2L314.4,213.3M356.1,175.3L356.6,180.3L358.2,184.6L362.2,187.6M392.1,195.4L392.8,202.9L393.4,210.3L394.1,217.8L394.8,225.2L395.4,229.6L395.5,233.7L391.9,240.1L391.6,245.2M398.7,194.2L403.4,193.7L408.1,193.3L412.7,192.7L417.4,192.2M417.4,192.2L418.2,198.9L419.0,205.6L419.8,212.3L420.6,219.0L421.5,225.7M333.0,308.8L339.1,308.7L345.2,308.6L351.3,308.4L357.4,308.2L363.6,308.0M537.3,166.8L532.1,167.9L526.9,169.0L521.7,170.1M545.2,171.4L543.8,169.1L541.1,165.7L537.3,166.8M506.1,225.5L503.4,224.8L499.7,224.2L495.7,221.8L496.4,220.3L497.3,218.7L497.3,216.9L496.4,216.1L493.9,215.0L491.5,212.6L489.6,212.4M356.1,175.3L351.3,175.5L346.5,175.7L341.7,175.8L336.9,176.0L332.1,176.1L327.3,176.2L322.4,176.3L317.6,176.3L312.8,176.3L308.0,176.3M308.0,176.3L308.0,168.8L308.1,161.2L308.1,153.7L304.7,149.9L307.1,147.1L307.2,145.6M346.3,134.8L344.7,136.0L345.0,143.0L342.0,147.5L340.7,150.1L341.4,155.7L341.1,160.1L345.7,163.7L349.9,166.7L353.7,169.7L356.1,175.3M376.5,269.2L369.6,269.6L371.5,263.2L365.8,263.5L360.2,263.8L354.5,264.1L348.8,264.3L343.2,264.5L337.5,264.6L331.8,264.8L326.2,264.9M356.2,214.7L359.8,224.5L365.0,229.3L369.4,234.1L369.3,236.6L368.2,241.8L372.3,244.7L377.1,248.8L377.4,252.6L381.2,256.2M326.2,264.9L326.2,258.5M378.1,262.7L377.3,266.6L376.5,269.2M382.5,342.5L380.4,332.3L373.6,332.7L366.8,333.1L360.1,333.4L361.9,326.4L362.2,321.9L366.8,316.0L365.0,313.0L363.8,310.5L363.6,308.0M445.3,275.1L439.1,275.9L432.8,276.8M494.5,282.0L487.6,277.1L480.8,272.2L475.0,273.0L469.2,273.9L467.3,270.6L466.0,270.1L459.6,270.8L453.1,271.4L445.3,275.1M543.3,154.0L541.1,155.5L539.6,157.2L534.3,158.3L529.0,159.5M532.9,125.0L535.4,132.8L538.0,140.6L540.1,146.6L543.6,150.9M171.0,320.8L171.9,314.3L172.8,307.9L173.7,301.5L174.6,295.0L175.5,288.5L176.4,282.1L177.3,275.6L178.2,269.2L179.2,262.7L180.1,256.2L181.0,249.7M181.0,249.7L186.0,250.4L191.0,251.1L196.0,251.7L201.0,252.3L206.0,252.8L211.0,253.4L216.1,253.9L221.1,254.4L226.1,254.8L231.2,255.3L236.2,255.7L241.2,256.0M521.7,170.1L524.4,181.8L523.4,183.5M521.7,161.1L521.7,170.1M519.3,190.8L519.5,189.2L520.7,188.2L520.9,183.9L512.8,181.1M512.8,181.1L509.7,180.3L508.8,178.9L505.5,175.1L504.8,174.6L499.7,175.7L494.7,176.7L489.6,177.8L484.5,178.8L479.4,179.7L474.4,180.7L469.3,181.6L464.2,182.5L463.6,179.1M514.2,133.5L515.6,139.7L516.7,146.0L519.3,150.9L521.7,161.1M417.4,192.2L423.9,191.6L430.3,191.0M457.2,183.9L458.6,192.2L460.0,200.6M326.2,264.9L327.2,271.8L328.3,278.8L328.3,286.2L328.2,293.6L328.2,301.1M241.2,256.0L246.3,256.4L251.3,256.7M240.8,262.4L241.2,256.0M328.2,301.1L325.3,299.7L323.2,298.3L320.5,297.2L317.9,298.4L316.4,297.6L314.3,298.4L312.1,297.9L310.0,299.7L307.9,299.1L305.8,298.6L303.7,300.1L302.2,297.8L300.0,299.8L298.5,298.4L296.4,298.4L294.3,296.7L291.7,296.4L290.2,294.7L287.0,295.0L284.9,294.2L282.8,294.7L280.8,293.6L278.7,292.5L276.7,291.2L274.6,291.1L272.5,289.9L270.5,288.7L270.9,280.5L271.2,272.3L271.6,264.1L266.4,263.9L261.3,263.6L256.1,263.4L251.0,263.1L245.9,262.7L240.8,262.4M88.8,167.4L84.0,166.1L79.2,164.9L74.4,163.6L69.7,162.3L64.9,160.9L60.1,159.6L55.4,158.2L50.7,156.8M115.9,173.8L110.5,172.6L105.0,171.3L99.6,170.0L94.2,168.7L88.8,167.4M510.3,201.9L508.5,201.8L507.0,203.7M507.0,203.7L502.0,204.7L497.0,205.7L492.0,206.7L486.9,207.7L481.9,208.6L476.9,209.6L471.8,210.4M512.8,181.1L511.7,183.4L509.8,186.9L510.2,191.6L512.6,193.6L515.5,195.6L513.9,197.2L512.9,199.4L510.3,201.9M539.0,175.4L537.3,166.8M445.3,275.1L449.5,281.3L455.4,286.4L459.1,290.4L464.4,296.6L467.4,302.6L474.1,308.8M308.0,176.3L306.6,178.8L307.5,182.6L306.3,186.4L307.9,189.1M419.6,278.2L414.3,278.7L408.9,279.3L403.6,279.8L398.2,280.3L392.8,280.7M432.8,276.8L426.2,277.5L419.6,278.2M392.8,280.7L387.4,281.1L381.9,281.5L376.5,281.9L371.0,282.2M456.8,253.1L454.2,257.8L448.6,261.8L444.0,265.6L440.3,268.7L435.3,270.6L432.8,276.8M328.2,301.1L332.8,302.1L333.0,308.8M333.0,308.8L333.1,315.2L333.2,321.7L334.8,325.4L338.2,331.7L338.4,336.7L337.4,341.8L336.1,350.7M198.1,315.6L203.6,316.2L209.1,316.8L214.5,317.3L220.0,317.8L225.5,318.3L231.0,318.7L236.5,319.1L236.9,312.8L237.4,306.5L237.9,300.2L238.4,293.9L238.8,287.6L239.3,281.3L239.8,275.0L240.3,268.7L240.8,262.4M188.0,199.5L187.1,205.8L186.3,212.1L185.4,218.4L184.5,224.6L183.6,230.9L182.7,237.2L181.9,243.5L181.0,249.7M131.2,241.7L132.5,235.4L133.7,229.2L134.9,223.0L136.1,216.8L137.4,210.5L138.6,204.3L139.8,198.1L141.0,191.9L142.2,185.7L143.5,179.5M513.8,243.3L508.7,244.4L503.5,245.3L498.3,246.3L493.2,247.3L488.0,248.2L482.8,249.1L477.6,249.9L472.4,250.8L467.2,251.6L462.0,252.3L456.8,253.1M456.8,253.1L451.8,253.8L446.8,254.5L441.7,255.1L436.7,255.7M529.0,159.5L521.7,161.1M530.2,129.5L530.4,133.5L528.0,138.6L526.8,144.8L527.0,149.3L527.8,154.3L529.0,159.5M128.1,124.9L123.7,123.9L119.2,122.9L114.8,121.8L110.3,120.7L107.4,120.9L103.6,121.2L98.9,121.5L95.1,120.4L90.1,120.8L87.6,118.7L84.2,118.3L80.7,118.9L76.7,116.4L77.3,113.3L76.7,110.5L74.8,109.1L73.2,108.2L69.7,106.8L68.0,105.8M388.6,185.8L383.4,186.2L378.1,186.6L372.8,187.0L367.5,187.3L362.2,187.6M361.2,136.3L364.0,139.1L368.6,140.3L373.2,141.5L377.0,142.4L382.4,144.8L383.4,147.0L385.5,149.9L387.6,152.9"/>
<path class="bw" d="M188.0,199.5L192.7,200.2L197.5,200.8L202.2,201.4L206.9,201.9L211.7,202.4L216.4,202.9L221.2,203.4L225.9,203.9L230.7,204.3L235.4,204.7M143.5,179.5L137.9,178.4L132.4,177.3L126.9,176.2L121.4,175.0L115.9,173.8M391.6,245.2L391.2,249.1L387.8,250.6L386.6,254.8L381.2,256.2M421.5,225.7L422.1,229.7L416.4,231.3L413.5,237.1L411.4,240.8L405.6,242.7L400.8,244.4L395.7,242.9L391.6,245.2M251.3,256.7L251.7,250.4L252.1,244.1L252.5,237.7L252.9,231.4L253.2,225.1L253.6,218.8M326.2,258.5L320.8,258.6L315.5,258.6L310.1,258.6L304.8,258.6L299.4,258.5L294.1,258.5L288.7,258.3L283.4,258.2L278.0,258.0L272.7,257.8L267.3,257.6L262.0,257.3L256.6,257.0L251.3,256.7M436.7,255.7L430.0,256.4L423.4,257.0L418.3,257.5L413.3,257.9L408.2,258.5L403.2,258.9L394.6,259.8L392.4,259.4L392.6,261.7L385.3,262.2L378.1,262.7M452.1,241.6L447.4,238.9L444.7,234.6L444.4,231.4M489.6,212.4L488.0,209.1L484.3,208.5L482.1,210.8L478.9,210.1L477.0,213.0L473.0,216.9L471.8,210.4M307.2,145.6L306.9,140.5L305.2,133.6L304.8,124.9L302.3,113.6L301.7,107.4M326.2,258.5L326.1,251.7L326.0,244.9L325.9,238.1L325.9,231.3L321.9,228.2L323.0,225.6L321.4,222.2L318.8,220.6M381.2,256.2L380.8,258.7L378.1,262.7M176.2,153.4L172.8,151.3L165.0,151.3L159.9,151.9L157.7,146.2L156.1,142.5L153.2,134.0L149.7,130.6L150.0,126.8L151.6,123.3L150.0,121.3L147.5,117.2L145.4,112.5L142.5,109.4L142.7,106.2L140.9,102.3L142.3,96.1L143.6,89.9M240.8,142.7L241.3,136.3L241.9,129.9L242.4,123.6L243.0,117.3L243.5,110.9L244.1,104.6M307.2,145.6L302.4,145.6L297.7,145.5L292.9,145.4L288.2,145.3L283.4,145.2L278.7,145.0L273.9,144.8L269.2,144.6L264.5,144.3L259.7,144.0L255.0,143.7L250.2,143.4L245.5,143.1L240.8,142.7M253.6,218.8L254.1,212.4L254.5,206.1L249.7,205.8L244.9,205.5L240.2,205.1L235.4,204.7M307.9,189.1L310.3,194.0L311.2,199.1L312.8,204.1L313.6,207.9L314.4,213.3M318.8,220.6L313.8,220.6L308.8,220.6L303.8,220.6L298.8,220.5L293.7,220.4L288.7,220.3L283.7,220.2L278.7,220.0L273.7,219.8L268.7,219.6L263.7,219.3L258.6,219.1L253.6,218.8M314.4,213.3L318.8,220.6M235.4,204.7L236.0,198.4L236.5,192.1L237.1,185.8L237.6,179.5M444.4,231.4L439.8,228.2L433.6,230.3L429.9,228.5L424.6,225.3L421.5,225.7M460.0,200.6L459.7,203.7L459.6,208.9L458.8,212.9L456.0,217.2L452.9,219.3L451.0,223.0L449.3,225.2L447.8,228.6L444.4,231.4M128.1,124.9L130.1,129.1L130.3,132.4L127.5,136.3L125.7,138.5L121.3,143.3L122.1,146.1L122.7,149.4L121.0,151.6L119.3,159.0L117.6,166.4L115.9,173.8M471.8,210.4L466.9,211.3L461.9,212.1L460.0,200.6M239.8,154.4L240.8,142.7M307.9,189.1L305.2,187.0L302.8,185.5L299.1,184.4L295.0,184.4L291.3,183.0L289.0,182.3L284.3,182.2L279.6,182.1L274.9,181.9L270.3,181.7L265.6,181.4L260.9,181.2L256.3,180.9L251.6,180.6L246.9,180.3L242.3,179.9L237.6,179.5M237.6,179.5L238.1,173.3L238.7,167.0L239.2,160.7L239.8,154.4M143.5,179.5L149.0,180.5L154.5,181.5L160.1,182.5L165.6,183.4L171.2,184.3M171.2,184.3L170.2,190.5L169.1,196.8L173.9,197.5L178.6,198.2L183.3,198.9L188.0,199.5M436.7,255.7L443.8,249.7L448.8,245.5L452.1,241.6M489.6,212.4L489.0,214.9L483.4,212.3L483.2,215.1L480.5,218.2L479.5,220.9L477.3,225.5L474.4,225.7L472.8,225.3L472.0,229.3L470.2,233.5L468.6,238.9L463.6,242.7L460.0,244.3L455.6,245.4L452.1,241.6M135.5,88.2L134.1,94.4L132.6,100.7L131.2,106.9L129.7,113.2L128.3,119.5L128.1,124.9M171.2,184.3L172.4,176.5L173.7,168.8L174.9,161.1L176.2,153.4M176.2,153.4L177.2,146.9L181.7,147.6L186.1,148.3L190.6,148.9L195.0,149.5L199.5,150.1L204.0,150.7L208.4,151.2L212.9,151.8L217.4,152.3L221.8,152.7L226.3,153.2L230.8,153.6L235.3,154.0L239.8,154.4"/>
<path d="M138.1,354.5L137.2,353.9L136.4,353.4L135.5,352.8L134.7,352.3L133.9,352.4L133.0,352.4L132.2,352.5L131.3,352.6L130.5,352.3L129.7,352.0L128.9,351.7L128.1,351.4L127.3,351.1L126.5,350.8L125.7,350.5L124.9,350.2L124.1,349.9L123.3,349.6L122.5,349.1L121.8,348.5L121.0,347.9L120.3,347.3L119.5,347.1L118.7,346.9L118.0,346.7L117.2,346.5L116.5,345.9L115.8,345.3L115.1,344.7L114.4,344.1L113.7,343.5L112.7,344.2L111.7,344.8L110.7,345.5L109.9,345.7L109.0,345.9L108.1,346.0L107.1,346.2L106.3,346.2L105.4,346.3L104.5,346.3L103.6,346.3L102.4,347.4L101.1,348.5L99.8,349.6L98.7,350.2L97.5,350.8L96.6,350.4L95.7,350.1L94.7,349.7L92.8,351.8L93.5,353.2L94.2,354.6L94.9,355.4L95.5,356.2L96.3,357.0L96.6,358.6L97.1,360.3L97.8,361.1L96.8,361.2L95.7,361.3L94.6,361.5L93.5,361.7L92.4,362.0L91.2,362.3L90.0,362.8L88.7,363.3L87.6,363.2L86.5,363.1L85.4,363.0L86.0,364.3L86.6,365.6L87.1,368.4L88.4,370.0L89.9,370.3L91.3,370.6L92.4,371.3L93.5,372.1L94.9,372.4L96.3,372.8L97.1,374.5L95.7,376.6L93.9,377.3L92.5,376.3L89.9,377.8L88.0,377.3L86.2,379.0L83.7,381.1L81.7,383.0L82.4,386.4L83.4,388.3L84.3,390.2L85.1,392.0L86.2,392.7L87.3,393.3L86.8,397.7L87.9,398.4L89.0,399.1L90.1,399.8L91.2,400.4L92.3,401.1L93.4,401.8L94.7,401.8L96.0,401.9L97.2,402.0L98.5,402.1L96.3,405.5L94.5,407.6L92.6,409.6L90.9,410.8L89.2,412.0L87.5,413.2L86.0,413.3L84.5,413.5L83.0,413.7L81.5,413.9L79.8,414.8L78.0,415.7L76.5,415.9L74.9,416.0L73.4,416.1L72.4,416.3L74.4,415.8L76.4,415.3L78.3,414.8L79.5,415.5L80.8,416.1L82.3,416.0L83.8,415.8L85.3,415.7L86.8,415.5L88.3,414.9L89.9,414.4L91.5,413.8L93.0,413.2L94.6,412.4L96.2,411.5L97.8,410.6L99.3,409.7L100.9,408.5L102.5,407.2L104.1,406.0L105.6,404.7L107.3,402.9L108.8,401.1L110.4,399.3L111.9,397.4L113.3,396.5L114.6,395.6L115.9,394.7L117.2,393.8L115.7,396.2L114.2,398.6L112.6,401.0L113.8,401.3L114.9,401.7L116.1,402.0L117.4,401.5L118.7,401.1L120.0,400.6L121.2,400.2L122.5,399.6L123.8,398.9L125.0,398.3L126.3,397.7L127.4,398.5L128.5,399.3L129.7,400.1L130.8,400.9L132.0,400.9L133.3,401.0L134.5,401.0L135.7,401.0L136.9,401.0L138.1,401.0L139.3,401.4L140.5,401.7L141.7,402.0L142.9,402.8L144.2,403.6L145.5,404.5L146.7,405.3L148.0,406.1L149.4,407.7L150.8,409.3L152.2,411.1L153.6,413.0L155.1,414.8L156.6,416.6L158.2,418.3L159.7,420.1L161.2,420.9L162.7,421.7L164.2,422.4L165.7,423.2L166.7,420.8L167.7,418.5L166.1,416.8L164.6,415.7L163.1,414.6L161.6,413.5L160.0,411.4L158.4,409.4L156.9,407.3L155.5,405.8L154.1,404.3L152.7,402.8L151.5,403.2L150.3,403.6L149.1,404.0L147.9,404.3L146.7,404.7L145.4,403.1L144.1,401.6L142.9,400.0L141.7,399.9L140.5,399.8L139.3,399.7L138.1,399.6L138.1,397.1L138.1,394.5L138.1,392.0L138.1,389.5L138.1,387.0L138.1,384.5L138.1,382.0L138.1,379.4L138.1,376.9L138.1,374.4L138.1,371.9L138.1,369.4L138.1,366.9L138.1,364.4L138.1,361.9L138.1,359.4L138.1,356.9Z" fill="#c4c4c4"/>
<path d="M74.6,367.9L75.6,368.4L76.5,369.0L77.4,369.5L78.2,370.5L79.0,371.5L79.9,372.5L77.5,373.0L76.4,372.0L75.4,370.9L74.4,369.9ZM77.7,387.9L79.3,388.0L81.0,388.2L80.8,390.2L79.4,390.3L78.0,390.4Z" fill="#c4c4c4" style="stroke:none"/>
<ellipse cx="192.4" cy="390.4" rx="2.2" ry="1.7" fill="#5b8ea8" stroke="none"/>
<ellipse cx="207" cy="395.3" rx="1.6" ry="1.1" fill="#6a93a8" stroke="none"/>
<polyline points="51.1,212.3 52.6,212.6 53.1,214.9 54.3,217.9" fill="none" stroke="#fff" stroke-width="1.3" stroke-linejoin="round" stroke-linecap="round"/>
<polyline points="52.6,212.6 52.5,210.8 54.1,209.8 55.9,210.5 58.4,210.9" fill="none" stroke="#fff" stroke-width="1.3" stroke-linejoin="round" stroke-linecap="round"/>
<polyline points="504.9,207.0 503.5,211.1 503.5,215.7 504.6,220.0 506.9,224.7 509.0,229.4 510.5,234.3 511.8,237.9" fill="none" stroke="#fff" stroke-width="1.8" stroke-linejoin="round" stroke-linecap="round"/>
<polyline points="506.6,225.4 503.3,224.1 500.2,223.7" fill="none" stroke="#fff" stroke-width="1.3" stroke-linejoin="round" stroke-linecap="round"/>
<polyline points="507.8,231.0 504.4,229.4 500.9,227.5" fill="none" stroke="#fff" stroke-width="1.1" stroke-linejoin="round" stroke-linecap="round"/>
<polyline points="508.2,235.4 505.3,233.8 503.0,232.6" fill="none" stroke="#fff" stroke-width="1.1" stroke-linejoin="round" stroke-linecap="round"/>
<polyline points="509.4,238.7 506.2,237.8 502.9,237.2" fill="none" stroke="#fff" stroke-width="1.2" stroke-linejoin="round" stroke-linecap="round"/>
<polyline points="505.1,218.6 507.8,216.7" fill="none" stroke="#fff" stroke-width="1.0" stroke-linejoin="round" stroke-linecap="round"/>
<polyline points="508.5,222.4 510.5,220.0" fill="none" stroke="#fff" stroke-width="1.0" stroke-linejoin="round" stroke-linecap="round"/>
<polyline points="503.0,213.2 501.2,214.2" fill="none" stroke="#fff" stroke-width="0.9" stroke-linejoin="round" stroke-linecap="round"/>
<polyline points="516.5,212.9 514.5,210.7 512.0,208.7 510.2,205.8 509.5,203.4" fill="none" stroke="#fff" stroke-width="2.0" stroke-linejoin="round" stroke-linecap="round"/>
<polyline points="516.5,249.6 511.9,250.2 507.8,250.4" fill="none" stroke="#fff" stroke-width="1.3" stroke-linejoin="round" stroke-linecap="round"/>
<polyline points="515.1,258.0 511.6,258.7 507.4,258.9" fill="none" stroke="#fff" stroke-width="1.2" stroke-linejoin="round" stroke-linecap="round"/>
<polyline points="513.2,263.5 510.4,263.1 507.3,263.4" fill="none" stroke="#fff" stroke-width="1.1" stroke-linejoin="round" stroke-linecap="round"/>
<polyline points="380.9,342.6 382.6,343.7" fill="none" stroke="#fff" stroke-width="1.0" stroke-linejoin="round" stroke-linecap="round"/>
<path d="M373.2,342.8L374.7,341.1L378.0,340.6L380.5,341.7L379.8,343.4L377.2,344.7L374.4,344.4Z" fill="#fff" stroke="none"/>
<text x="106.0" y="103.4">WA</text>
<text x="87.5" y="143.5">OR</text>
<text x="83.8" y="250.9">CA</text>
<text x="108.8" y="206.7">NV</text>
<text x="146.3" y="162.7">ID</text>
<text x="197.5" y="127.2">MT</text>
<text x="204.5" y="179.2">WY</text>
<text x="160.0" y="224.7">UT</text>
<text x="146.3" y="279.8">AZ</text>
<text x="217.7" y="231.7">CO</text>
<text x="206.2" y="288.4">NM</text>
<text x="271.2" y="128.0">ND</text>
<text x="273.8" y="166.7">SD</text>
<text x="271.2" y="203.9">NE</text>
<text x="273.8" y="242.2">KS</text>
<text x="308.8" y="283.4">OK</text>
<text x="295.5" y="337.2">TX</text>
<text x="326.2" y="149.7">MN</text>
<text x="327.0" y="198.2">IA</text>
<text x="346.6" y="244.6">MO</text>
<text x="350.0" y="285.9">AR</text>
<text x="352.5" y="334.2">LA</text>
<text x="361.2" y="156.7">WI</text>
<text x="377.5" y="220.9">IL</text>
<text x="415.8" y="172.2">MI</text>
<text x="406.2" y="218.4">IN</text>
<text x="437.0" y="212.7">OH</text>
<text x="426.3" y="247.1">KY</text>
<text x="408.0" y="271.2">TN</text>
<text x="378.3" y="312.8">MS</text>
<text x="411.0" y="308.2">AL</text>
<text x="443.5" y="307.2">GA</text>
<text x="474.9" y="364.4">FL</text>
<text x="471.0" y="286.2">SC</text>
<text x="488.0" y="264.9">NC</text>
<text x="488.8" y="237.9">VA</text>
<text x="459.5" y="228.4">WV</text>
<text x="486.5" y="195.7">PA</text>
<text x="505.0" y="164.2">NY</text>
<text x="521.0" y="145.9">VT</text>
<text x="532.0" y="146.9">NH</text>
<text x="548.7" y="118.4">ME</text>
<text x="533.5" y="164.5">MA</text>
<text x="529.4" y="177.0">CT</text>
<text x="518.0" y="202.8">NJ</text>
<text x="499.5" y="211.4">MD</text>
<text x="110.0" y="373.2">AK</text>
</svg>

<!-- header -->
<svg width="600" height="60" viewBox="0 0 600 60">
  <defs>
    <clipPath id="cc"><circle cx="55.5" cy="30" r="20.5"/></clipPath>
    <clipPath id="tc"><circle cx="556" cy="30" r="20.5"/></clipPath>
    <filter id="bl" x="-10%" y="-10%" width="120%" height="120%"><feGaussianBlur stdDeviation="0.6"/></filter>
    <linearGradient id="ch" x1="0" y1="0" x2="0" y2="1">
      <stop offset="0" stop-color="#9a9a9a"/><stop offset="1" stop-color="#6e6e6e"/>
    </linearGradient>
    <radialGradient id="cf" cx="0.5" cy="0.45" r="0.6">
      <stop offset="0" stop-color="#e2e2e2"/><stop offset="0.7" stop-color="#c8c8c8"/><stop offset="1" stop-color="#a5a5a5"/>
    </radialGradient>
    <radialGradient id="tf" cx="0.5" cy="0.5" r="0.6">
      <stop offset="0" stop-color="#c4c4c4"/><stop offset="0.6" stop-color="#a8a8a8"/><stop offset="1" stop-color="#7c7c7c"/>
    </radialGradient>
  </defs>
  <!-- Clinton -->
  <g clip-path="url(#cc)" filter="url(#bl)">
    <path d="M37,44 C36.5,36 37.5,27 39.5,20 C41,14 46,11 52,10.4 C58,10 64,10.6 68,12.5 C71,15 71.5,20 71,26 C70.5,31 70,36 71,40 L72,44 Z" fill="#8c8c8c"/>
    <path d="M41,22 C42,16 47,12.5 53,12 C60,11.5 66,13 69,17 C66,15.5 60,14.5 55,15 C50,15.5 45,18 41,22 Z" fill="#bdbdbd"/>
    <path d="M38.5,30 C39,35 40,39 43,41 L46,40 C43,36 42,32 42,28 Z" fill="#adadad"/>
    <path d="M40,20 C39,26 39.5,33 41.5,38 L44,37 C42.5,32 42.5,26 44,20 Z" fill="#777"/>
    <path d="M66,14 C69,16 70.5,20 70,26 L68,26 C68.5,21 67.5,17 66,14 Z" fill="#c8c8c8"/>
    <path d="M66.5,22 C68.5,26 69,32 68,38 L66,39 C67,33 67,27 66.5,22 Z" fill="#a6a6a6"/>
    <path d="M45.8,19 C46.3,16 51,14.6 56,14.6 C61,14.6 66,16 67,19.5 C68,24 67.5,30 65.5,35 C63.5,39 60,40.8 56.5,40.8 C53,40.8 49.5,39 47.5,35.5 C45.6,31 45.3,24 45.8,19 Z" fill="#e0e0e0"/>
    <path d="M46,20 C49,16.5 54,16 58.5,17.5 C55,18.2 51.5,19.8 48.5,23 Z" fill="#a0a0a0"/>
    <path d="M58,17.3 C61,16.8 64.5,17.5 66.5,20 C63.5,19 61,18.5 58,17.3 Z" fill="#b0b0b0"/>
    <path d="M49,24 q2.3,-1.4 4.6,0 M57.8,24 q2.4,-1.4 4.8,0" stroke="#5c5c5c" stroke-width="1.2" fill="none"/>
    <path d="M54.6,25.5 l-1,3.8 l1.8,0.6" stroke="#9a9a9a" stroke-width="0.8" fill="none"/>
    <path d="M50.5,32.6 q5,2.8 10,-0.2" stroke="#747474" stroke-width="1.2" fill="none"/>
    <path d="M47.5,33 C48.5,37 51,39.5 54,40.5 C51,40.8 48.5,38.5 47.5,35 Z" fill="#bcbcbc"/>
    <path d="M30,52 L30,43 C33,41 36,40.6 40,40.6 C43,41 46,41.5 48,40 C51,44 60,44 64,39.5 C67,38.6 71,37.6 76,38 L80,40 L80,52 Z" fill="#303030"/>
    <path d="M48,40.2 C51,44.2 60,44.2 64,39.7 C64,44 63,48 61,52 L51,52 C49.5,48 48.5,44 48,40.2 Z" fill="#a3a3a3"/>
    <path d="M49.5,44 q6.5,4 13,-0.5" stroke="#d8d8d8" stroke-width="0.8" fill="none"/>
  </g>
  <!-- Trump -->
  <g clip-path="url(#tc)" filter="url(#bl)">
    <path d="M543.6,30 C543,22 543,15 543.8,10.6 C552,10 563,10 571,10.8 C571.8,16 571.8,23 570.8,30 Z" fill="#8a8a8a"/>
    <path d="M546,11 C553,10.4 563,10.4 570.5,11.2 C570,14 567,15.6 560,16 C553,16 548,14.5 546,11 Z" fill="#b4b4b4"/>
    <path d="M543.8,11 C545,14 546,18 546,24 L544,24 C543.5,19 543.4,14 543.8,11 Z" fill="#6e6e6e"/>
    <path d="M545.8,19 C545.8,16.5 549,16.8 557,17 C565,16.8 569.4,16.5 569.4,19.5 C569.6,28 568.3,34.5 565.5,38.5 C562.5,41.5 553,41.6 549.5,38.5 C546.7,34.5 545.6,27 545.8,19 Z" fill="#9a9a9a"/>
    <path d="M548.5,26.5 C550.5,25.5 554,25.5 555.5,27 C555,30 553,31 551,30.5 C549,30 548.3,28.5 548.5,26.5 Z M559.8,27 C561.5,25.5 565,25.5 566.8,26.5 C566.8,28.5 565.5,30.2 563.5,30.3 C561.5,30.6 560.2,29 559.8,27 Z" fill="#b8b8b8"/>
    <path d="M547,20.5 C551,19.3 554,19.8 556,21.5 L556,23.4 C553,21.9 550,21.9 547,23 Z M559,21.5 C561,19.8 565,19.3 568.3,20.5 L568.3,23 C565,21.9 562,21.9 559,23.4 Z" fill="#444"/>
    <path d="M549.5,24.2 q2.5,-1 5,0 M560.5,24.2 q2.5,-1 5,0" stroke="#3a3a3a" stroke-width="1.2" fill="none"/>
    <path d="M556.6,24 C556,27 555.5,29 556,30.3 C557,31 558.5,31 559.5,30.3 C559.5,28.5 558.8,26 558.3,24 Z" fill="#c2c2c2"/>
    <path d="M555.5,30.8 q2,1 4.2,0" stroke="#4a4a4a" stroke-width="1" fill="none"/>
    <path d="M552.3,34.2 q5.2,1.8 10.7,0" stroke="#404040" stroke-width="1.4" fill="none"/>
    <path d="M551,32 C551.5,34.5 553,36.5 555,37.5 C557,38 559,38 561,37.3 C563,36.5 564.3,34.5 564.8,32 C565,36 562.5,39 558,39.5 C553.5,39.2 551,36 551,32 Z" fill="#b0b0b0"/>
    <path d="M548.5,36 C552,40.5 562,40.5 566.5,36 L566.5,40.5 C561,43 553,43 548.5,40.5 Z" fill="#7a7a7a"/>
    <path d="M530,52 L530,44 C534,42 538,41.3 542,41.3 C545,41 548,40.2 550,40 C553,43 561,43.5 565,40 C568,41 572,42.5 576,43.6 L582,46 L582,52 Z" fill="#2e2e2e"/>
    <path d="M550.5,40.5 L557.5,46 L564.5,40.5 L562.5,52 L553,52 Z" fill="#9a9a9a"/>
    <path d="M555.8,44.5 L559.2,44.5 L560,52 L555,52 Z" fill="#3a3a3a"/>
  </g>
  <!-- bar -->
  <rect x="85.3" y="34.7" width="412.7" height="4.7" fill="#56a8d5"/>
  <rect x="499.6" y="34.7" width="7.4" height="4.7" fill="#d8d8d8"/>
  <rect x="508.7" y="34.7" width="19.3" height="4.7" fill="#e8727a"/>
  <path d="M304.6,43 L307.2,40.4 L309.8,43 Z" fill="#8898aa"/>
</svg>
<div class="hd num" style="left:85.5px;top:12.3px;color:#7099b6;font-size:19px;">504</div>
<div class="hd nm" style="left:121.2px;top:20.5px;color:#8299ac;font-size:7.6px;">CLINTON</div>
<div class="hd nm" style="left:286.2px;top:45.2px;color:#8e9aab;font-size:7.5px;">270 TO WIN</div>
<div class="hd nm" style="left:478.4px;top:20.2px;color:#e2a0a6;font-size:7.6px;">TRUMP</div>
<div class="hd num" style="left:508.9px;top:13px;color:#d0737c;font-size:18.2px;">23</div>
</div>
</body></html>
